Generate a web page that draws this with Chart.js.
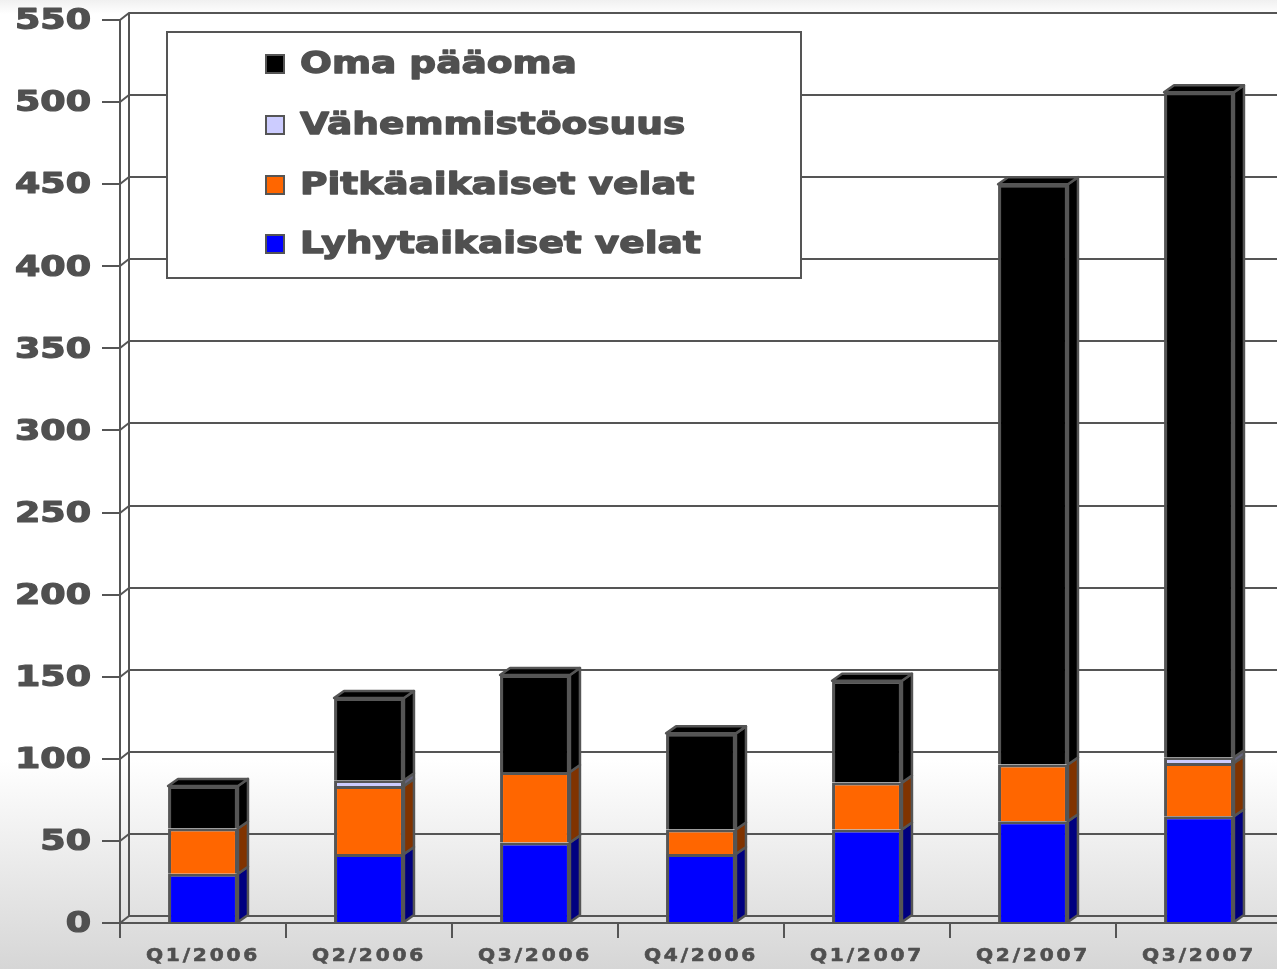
<!DOCTYPE html>
<html lang="fi">
<head>
<meta charset="utf-8">
<title>Taseen rakenne</title>
<script src="https://cdn.jsdelivr.net/npm/chart.js@4.4.1/dist/chart.umd.min.js"></script>
<style>
    html, body {
        margin: 0;
        padding: 0;
        overflow: hidden;
    }
    body {
        width: 1277px;
        height: 969px;
        background: linear-gradient(to bottom, #f0f0f0 0px, #ffffff 14px, #ffffff 760px, #d6d6d6 969px);
    }
    .chart-wrap {
        position: absolute;
        left: 0;
        top: 0;
        width: 1282px;
        height: 969px;
    }
</style>
</head>
<body>
<div class="chart-wrap">
    <canvas id="balanceChart" width="1282" height="969"></canvas>
</div>
<script>
/* ====================================
   DATA
==================================== */

const quarters = ["Q1/2006", "Q2/2006", "Q3/2006", "Q4/2006", "Q1/2007", "Q2/2007", "Q3/2007"];

const lyhytaikaisetVelat = [30, 42, 49, 42, 57, 62, 65];
const pitkaaikaisetVelat = [27.5, 41.5, 43, 15, 28.5, 34.5, 32.5];
const vahemmistoosuus = [0, 3.5, 0, 0, 0, 0, 3.5];
const omaPaaoma = [26, 50, 59, 58.5, 62, 353.5, 405];

const seriesNames = ["Lyhytaikaiset velat", "Pitkäaikaiset velat", "Vähemmistöosuus", "Oma pääoma"];
const frontColors = ["#0000ff", "#ff6600", "#ccccff", "#000000"];
const sideColors = ["#000080", "#803300", "#66667f", "#000000"];

/* ====================================
   LOOK
==================================== */

const LINE_COLOR = "#555555";
const TEXT_COLOR = "#505050";
const FONT = "'DejaVu Sans', Verdana, sans-serif";
const WALL_X = 9;
const WALL_Y = 7;
const DEPTH_X = 10;
const DEPTH_Y = 7;

document.addEventListener("DOMContentLoaded", () => {

    createBalanceChart();

});

/* ====================================
   HELPERS
==================================== */

// heavy, horizontally stretched text like the original slide
function drawStretched(ctx, text, x, y, align, stretch, weight) {

    ctx.save();
    ctx.translate(x, y);
    ctx.scale(stretch, 1);
    ctx.textAlign = align;
    ctx.fillText(text, 0, 0);

    if (weight) {
        ctx.lineWidth = weight;
        ctx.lineJoin = "round";
        ctx.strokeStyle = ctx.fillStyle;
        ctx.strokeText(text, 0, 0);
    }

    ctx.restore();

}

/* ====================================
   3D WALL + GRID
==================================== */

const wallPlugin = {

    id: "wall",

    beforeDatasetsDraw(chart) {

        const { ctx, chartArea, scales } = chart;
        const yScale = scales.y;

        ctx.save();
        ctx.strokeStyle = LINE_COLOR;
        ctx.lineWidth = 2;

        yScale.ticks.forEach(tick => {

            const py = Math.round(yScale.getPixelForValue(tick.value));

            ctx.beginPath();
            ctx.moveTo(chartArea.left, py);
            ctx.lineTo(chartArea.left + WALL_X, py - WALL_Y);
            ctx.lineTo(chartArea.right, py - WALL_Y);
            ctx.stroke();

        });

        ctx.beginPath();
        ctx.moveTo(chartArea.left + WALL_X, Math.round(yScale.getPixelForValue(yScale.max)) - WALL_Y);
        ctx.lineTo(chartArea.left + WALL_X, Math.round(yScale.getPixelForValue(yScale.min)) - WALL_Y);
        ctx.stroke();

        ctx.restore();

    }

};

/* ====================================
   3D BAR FACES
==================================== */

const barDepthPlugin = {

    id: "barDepth",

    afterDatasetsDraw(chart) {

        const { ctx } = chart;

        ctx.save();
        ctx.strokeStyle = LINE_COLOR;
        ctx.lineWidth = 2.5;
        ctx.lineJoin = "round";

        chart.data.datasets.forEach((ds, di) => {

            chart.getDatasetMeta(di).data.forEach(bar => {

                if (bar.base - bar.y < 0.5) return;

                const right = bar.x + bar.width / 2;

                ctx.fillStyle = sideColors[di];
                ctx.beginPath();
                ctx.moveTo(right, bar.y);
                ctx.lineTo(right + DEPTH_X, bar.y - DEPTH_Y);
                ctx.lineTo(right + DEPTH_X, bar.base - DEPTH_Y);
                ctx.lineTo(right, bar.base);
                ctx.closePath();
                ctx.fill();
                ctx.stroke();

            });

        });

        chart.data.labels.forEach((label, i) => {

            let top = -1;

            chart.data.datasets.forEach((ds, di) => {
                if (ds.data[i] > 0) top = di;
            });

            if (top < 0) return;

            const bar = chart.getDatasetMeta(top).data[i];
            const left = bar.x - bar.width / 2;
            const right = bar.x + bar.width / 2;

            ctx.fillStyle = sideColors[top];
            ctx.beginPath();
            ctx.moveTo(left, bar.y);
            ctx.lineTo(left + DEPTH_X, bar.y - DEPTH_Y);
            ctx.lineTo(right + DEPTH_X, bar.y - DEPTH_Y);
            ctx.lineTo(right, bar.y);
            ctx.closePath();
            ctx.fill();
            ctx.stroke();

        });

        ctx.restore();

    }

};

/* ====================================
   LABELS + LEGEND
==================================== */

const labelPlugin = {

    id: "labels",

    afterDraw(chart) {

        const { ctx, scales } = chart;

        ctx.save();
        ctx.fillStyle = TEXT_COLOR;
        ctx.textBaseline = "middle";

        // y axis
        ctx.font = "bold 28px " + FONT;
        scales.y.ticks.forEach(tick => {
            drawStretched(ctx, String(tick.value), 91, scales.y.getPixelForValue(tick.value) + 2, "right", 1.3, 1.2);
        });

        // x axis
        ctx.font = "bold 18px " + FONT;
        ctx.letterSpacing = "2.5px";
        chart.data.labels.forEach((label, i) => {
            drawStretched(ctx, label, scales.x.getPixelForValue(i), 956, "center", 1.12, 0.6);
        });
        ctx.letterSpacing = "0px";

        // legend box
        ctx.fillStyle = "#ffffff";
        ctx.strokeStyle = LINE_COLOR;
        ctx.lineWidth = 2;
        ctx.fillRect(167, 32, 634, 246);
        ctx.strokeRect(167, 32, 634, 246);

        const rows = [64, 125, 185, 244];
        const items = chart.data.datasets.slice().reverse();

        ctx.font = "bold 30px " + FONT;

        items.forEach((ds, k) => {

            const cy = rows[k];

            ctx.fillStyle = ds.backgroundColor;
            ctx.strokeStyle = LINE_COLOR;
            ctx.lineWidth = 2;
            ctx.fillRect(266, cy - 9, 18, 18);
            ctx.strokeRect(266, cy - 9, 18, 18);

            ctx.fillStyle = TEXT_COLOR;
            drawStretched(ctx, ds.label, 300, cy + 1, "left", 1.25, 1.3);

        });

        ctx.restore();

    }

};

/* ====================================
   CHART
==================================== */

function createBalanceChart() {

    const canvas = document.getElementById("balanceChart");

    if (!canvas) return;

    const series = [lyhytaikaisetVelat, pitkaaikaisetVelat, vahemmistoosuus, omaPaaoma];

    new Chart(canvas, {

        type: "bar",

        data: {

            labels: quarters,

            datasets: series.map((values, i) => ({
                label: seriesNames[i],
                data: values,
                backgroundColor: frontColors[i],
                borderColor: LINE_COLOR,
                borderWidth: 3,
                borderSkipped: "bottom",
                barPercentage: 0.52,
                categoryPercentage: 0.81
            }))

        },

        options: {

            responsive: false,

            animation: false,

            layout: {
                padding: { top: 20, left: 0, right: 0, bottom: 0 }
            },

            plugins: {
                legend: { display: false },
                tooltip: { enabled: false }
            },

            scales: {

                x: {
                    stacked: true,
                    ticks: { display: false },
                    grid: {
                        offset: true,
                        drawOnChartArea: false,
                        drawTicks: true,
                        tickLength: 15,
                        color: LINE_COLOR,
                        lineWidth: 2
                    },
                    border: { display: true, color: LINE_COLOR, width: 2 },
                    afterFit: scale => { scale.height = 46; }
                },

                y: {
                    stacked: true,
                    min: 0,
                    max: 550,
                    ticks: { display: false, stepSize: 50 },
                    grid: {
                        drawOnChartArea: false,
                        drawTicks: true,
                        tickLength: 18,
                        color: LINE_COLOR,
                        lineWidth: 2
                    },
                    border: { display: true, color: LINE_COLOR, width: 2 },
                    afterFit: scale => { scale.width = 120; }
                }

            }

        },

        plugins: [wallPlugin, barDepthPlugin, labelPlugin]

    });

}
</script>
</body>
</html>
